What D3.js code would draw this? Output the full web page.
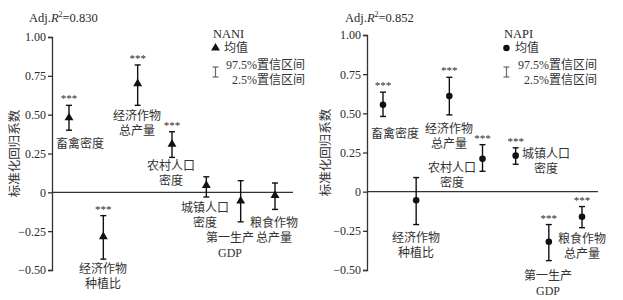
<!DOCTYPE html>
<html>
<head>
<meta charset="utf-8">
<script src="https://cdn.jsdelivr.net/npm/d3@7"></script>
<style>
  body { margin: 0; background: #fff; }
  text { font-family: "Times New Roman", "Liberation Serif", "DejaVu Serif", "Noto Sans CJK SC", serif; fill: #2a2a2a; }
  .cn { font-size: 12px; fill: #333; }
  .tick text { font-size: 12px; }
</style>
</head>
<body>
<svg id="chart" width="623" height="300"></svg>
<script>
// categories (two-line labels)
var categories = ["畜禽密度", "经济作物种植比", "经济作物总产量", "农村人口密度", "城镇人口密度", "第一生产GDP", "粮食作物总产量"];
var labelLines = [["畜禽密度"], ["经济作物", "种植比"], ["经济作物", "总产量"], ["农村人口", "密度"], ["城镇人口", "密度"], ["第一生产", "GDP"], ["粮食作物", "总产量"]];

var yTicks = [1.00, 0.75, 0.50, 0.25, 0, -0.25, -0.50];

// NANI
var naniMean = [0.48, -0.285, 0.70, 0.31, 0.045, -0.055, -0.02];
var naniLow  = [0.40, -0.43, 0.56, 0.225, -0.03, -0.19, -0.11];
var naniHigh = [0.56, -0.15, 0.82, 0.39, 0.10, 0.075, 0.06];
var naniSig  = [true, true, true, true, false, false, false];

// NAPI
var napiMean = [0.555, -0.055, 0.61, 0.21, 0.23, -0.32, -0.16];
var napiLow  = [0.48, -0.21, 0.49, 0.13, 0.175, -0.44, -0.23];
var napiHigh = [0.635, 0.09, 0.73, 0.30, 0.28, -0.21, -0.095];
var napiSig  = [true, false, true, true, true, true, true];

var svg = d3.select("#chart");

// panel layout: label positions [cx, first baseline]
var panels = [
  {name: "NANI", r2: "0.830", mean: naniMean, low: naniLow, high: naniHigh, sig: naniSig, marker: "tri",
   axisX: 52, xr: [69, 275], zeroEnd: 293, yr: [270, 37], titleX: 29, ylabX: 19,
   legX: 213, legEnd: 305,
   labels: [[80, 148], [103, 273], [137, 120], [171, 170], [205, 212], [230, 242], [274, 227]]},
  {name: "NAPI", r2: "0.852", mean: napiMean, low: napiLow, high: napiHigh, sig: napiSig, marker: "dot",
   axisX: 367, xr: [383, 582], zeroEnd: 598, yr: [270, 35], titleX: 345, ylabX: 330,
   legX: 504, legEnd: 597,
   labels: [[395, 138], [416, 242], [449, 133], [452, 172], [546, 158], [548, 280], [582, 243]]}
];

panels.forEach(function(p) {
  var x = d3.scalePoint().domain(categories).range(p.xr);
  var y = d3.scaleLinear().domain([-0.5, 1]).range(p.yr);

  var g = svg.append("g");

  // title
  var t = g.append("text").attr("x", p.titleX).attr("y", 22).style("font-size", "12.5px");
  t.append("tspan").text("Adj.");
  t.append("tspan").style("font-style", "italic").text("R");
  t.append("tspan").attr("dy", -5).style("font-size", "8px").text("2");
  t.append("tspan").attr("dy", 5).text("=" + p.r2);

  // y axis
  var yAxis = d3.axisLeft(y).tickValues(yTicks).tickSize(4).tickPadding(2)
    .tickFormat(function(d) { return d === 0 ? "0" : d3.format(".2f")(d).replace("-", "\u2212"); });
  var ax = g.append("g")
    .attr("class", "y axis")
    .attr("transform", "translate(" + p.axisX + ",0)")
    .call(yAxis)
    .attr("font-family", null);
  ax.select(".domain").attr("stroke", "#333").attr("stroke-width", 1.3);
  ax.selectAll(".tick line").attr("stroke", "#333").attr("stroke-width", 1.3);
  ax.selectAll(".tick text").attr("fill", "#2a2a2a");

  g.append("text")
    .attr("class", "cn")
    .attr("transform", "translate(" + p.ylabX + "," + ((p.yr[0] + p.yr[1]) / 2) + ") rotate(-90)")
    .attr("text-anchor", "middle")
    .style("font-size", "12.5px")
    .text("标准化回归系数");

  // zero line
  g.append("line")
    .attr("x1", p.axisX).attr("x2", p.zeroEnd)
    .attr("y1", y(0)).attr("y2", y(0))
    .attr("stroke", "#333").attr("stroke-width", 1.3);

  // error bars
  var bars = g.selectAll(".err")
    .data(categories)
    .enter().append("g")
    .attr("class", "err");

  bars.append("line")
    .attr("x1", function(d) { return x(d); })
    .attr("x2", function(d) { return x(d); })
    .attr("y1", function(d, i) { return y(p.low[i]); })
    .attr("y2", function(d, i) { return y(p.high[i]); })
    .attr("stroke", "#111").attr("stroke-width", 1.4);

  ["low", "high"].forEach(function(k) {
    bars.append("line")
      .attr("x1", function(d) { return x(d) - 3; })
      .attr("x2", function(d) { return x(d) + 3; })
      .attr("y1", function(d, i) { return y(p[k][i]); })
      .attr("y2", function(d, i) { return y(p[k][i]); })
      .attr("stroke", "#111").attr("stroke-width", 1.4);
  });

  var sym = p.marker === "tri" ? d3.symbol().type(d3.symbolTriangle).size(34) : d3.symbol().type(d3.symbolCircle).size(34);
  bars.append("path")
    .attr("d", sym)
    .attr("transform", function(d, i) { return "translate(" + x(d) + "," + y(p.mean[i]) + ")"; })
    .attr("fill", "#111");

  // significance stars
  bars.filter(function(d, i) { return p.sig[i]; })
    .append("text")
    .attr("x", function(d) { return x(d); })
    .attr("y", function(d) { var i = categories.indexOf(d); return y(p.high[i]) - 3; })
    .attr("text-anchor", "middle")
    .style("font-size", "11px")
    .attr("fill", "#555")
    .text("***");

  // category labels
  labelLines.forEach(function(lines, i) {
    var tx = g.append("text")
      .attr("class", "cn")
      .attr("text-anchor", "middle");
    lines.forEach(function(s, j) {
      tx.append("tspan")
        .attr("x", p.labels[i][0])
        .attr("y", p.labels[i][1] + j * 15)
        .text(s);
    });
  });

  // legend
  var leg = g.append("g");
  leg.append("text").attr("x", p.legX).attr("y", 38).style("font-size", "12.5px").text(p.name);
  leg.append("path")
    .attr("d", sym)
    .attr("transform", "translate(" + (p.legX + 2.5) + ",48)")
    .attr("fill", "#111");
  leg.append("text").attr("class", "cn").attr("x", p.legX + 11).attr("y", 52).text("均值");
  var ix = p.legX + 2.5;
  leg.append("line").attr("x1", ix).attr("x2", ix).attr("y1", 67).attr("y2", 77).attr("stroke", "#666").attr("stroke-width", 1.2);
  leg.append("line").attr("x1", ix - 3).attr("x2", ix + 3).attr("y1", 67).attr("y2", 67).attr("stroke", "#666").attr("stroke-width", 1.2);
  leg.append("line").attr("x1", ix - 3).attr("x2", ix + 3).attr("y1", 77).attr("y2", 77).attr("stroke", "#666").attr("stroke-width", 1.2);
  leg.append("text").attr("class", "cn").attr("x", p.legEnd).attr("y", 69).attr("text-anchor", "end").text("97.5%置信区间");
  leg.append("text").attr("class", "cn").attr("x", p.legEnd).attr("y", 84).attr("text-anchor", "end").text("2.5%置信区间");
});
</script>
</body>
</html>
